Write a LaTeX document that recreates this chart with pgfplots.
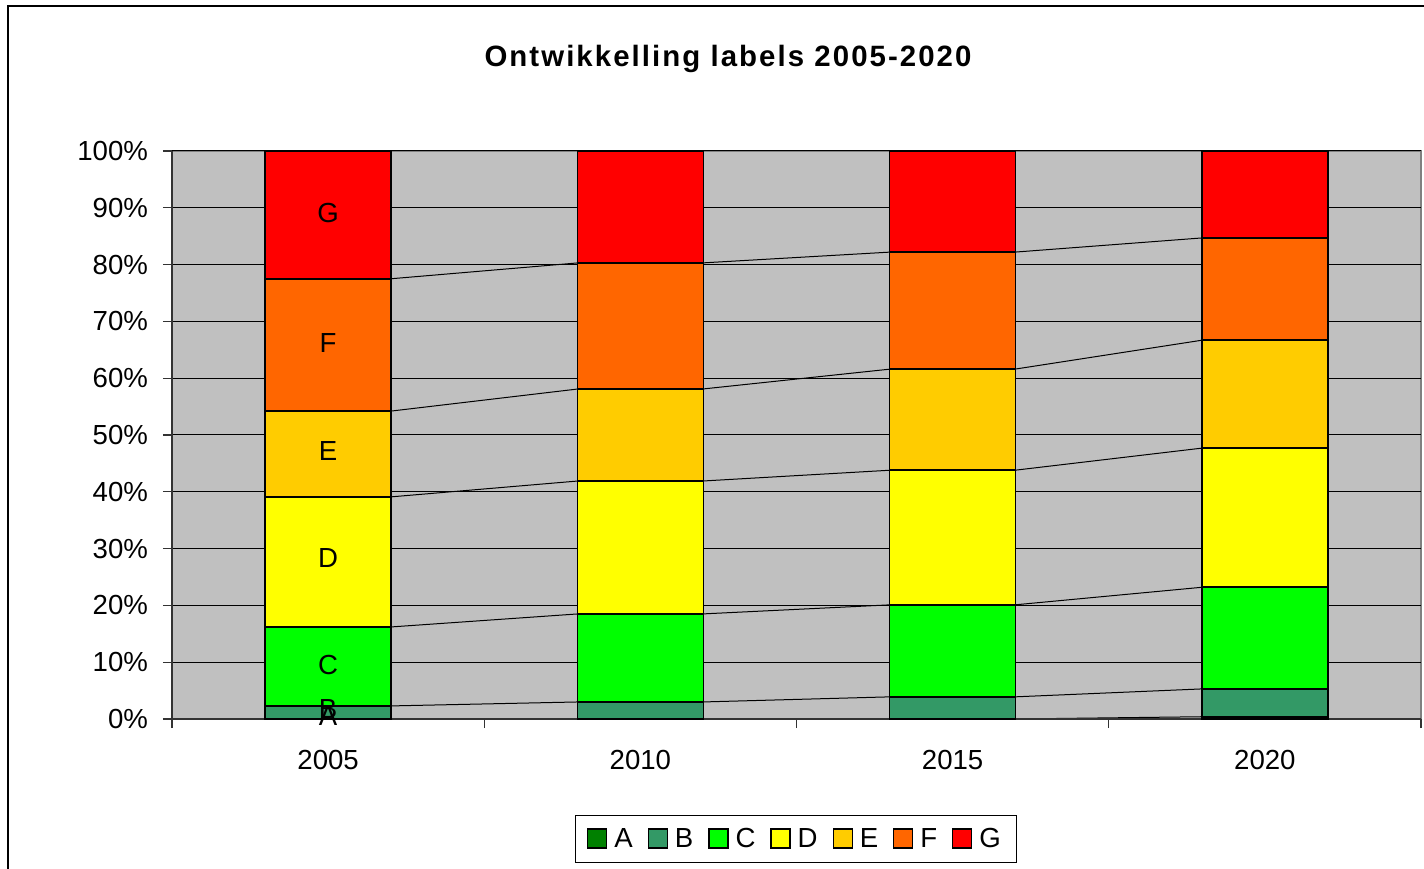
\documentclass[border=0pt]{standalone}
\usepackage{fontspec}
\setmainfont{Liberation Sans}
\usepackage{pgfplots}
\pgfplotsset{compat=1.18}
\usepackage{pgfplotstable}

\definecolor{labA}{HTML}{008000}
\definecolor{labB}{HTML}{339966}
\definecolor{labC}{HTML}{00FF00}
\definecolor{labD}{HTML}{FFFF00}
\definecolor{labE}{HTML}{FFCC00}
\definecolor{labF}{HTML}{FF6600}
\definecolor{labG}{HTML}{FF0000}
\definecolor{plotbg}{HTML}{C0C0C0}

\newcommand\chartfont{\fontsize{13.8}{16}\selectfont}

% share per label per year (%)
\pgfplotstableread{
x A   B   C    D    E    F    G
0 0.0 2.3 13.9 22.9 15.1 23.3 22.5
1 0.0 3.0 15.5 23.4 16.2 22.2 19.7
2 0.0 3.9 16.2 23.7 17.8 20.6 17.8
3 0.4 4.9 17.9 24.5 19.0 18.0 15.3
}\labels

\begin{document}
\begin{tikzpicture}
\useasboundingbox (0,0) rectangle (712pt,434pt);
\draw[line width=1.2pt] (4pt,-10pt) -- (4pt,431pt) -- (740pt,431pt);
\node[font=\fontsize{14.7}{17}\selectfont\bfseries\addfontfeature{LetterSpace=7}] at (364pt,404.5pt) {Ontwikkelling labels 2005-2020};

% background and series lines
\begin{axis}[
    at={(86pt,74.5pt)}, anchor=south west,
    scale only axis, width=624.5pt, height=284pt,
    xmin=-0.5, xmax=3.5, ymin=0, ymax=100,
    axis background/.style={fill=plotbg},
    axis line style={draw=gray, line width=0.6pt},
    xtick=\empty, ytick=\empty,
    unbounded coords=jump,
]
\addplot[black, line width=0.5pt, mark=none] coordinates {(0.2,0.0)(0.8,0.0)(1,nan)(1.2,0.0)(1.8,0.0)(2,nan)(2.2,0.0)(2.8,0.4)};
\addplot[black, line width=0.5pt, mark=none] coordinates {(0.2,2.3)(0.8,3.0)(1,nan)(1.2,3.0)(1.8,3.9)(2,nan)(2.2,3.9)(2.8,5.3)};
\addplot[black, line width=0.5pt, mark=none] coordinates {(0.2,16.2)(0.8,18.5)(1,nan)(1.2,18.5)(1.8,20.1)(2,nan)(2.2,20.1)(2.8,23.2)};
\addplot[black, line width=0.5pt, mark=none] coordinates {(0.2,39.1)(0.8,41.9)(1,nan)(1.2,41.9)(1.8,43.8)(2,nan)(2.2,43.8)(2.8,47.7)};
\addplot[black, line width=0.5pt, mark=none] coordinates {(0.2,54.2)(0.8,58.1)(1,nan)(1.2,58.1)(1.8,61.6)(2,nan)(2.2,61.6)(2.8,66.7)};
\addplot[black, line width=0.5pt, mark=none] coordinates {(0.2,77.5)(0.8,80.3)(1,nan)(1.2,80.3)(1.8,82.2)(2,nan)(2.2,82.2)(2.8,84.7)};
\end{axis}

% stacked bars
\begin{axis}[
    at={(86pt,74.5pt)}, anchor=south west,
    scale only axis, width=624.5pt, height=284pt,
    ybar stacked, bar width=63pt,
    xmin=-0.5, xmax=3.5, ymin=0, ymax=100,
    axis lines*=left,
    axis line style={-, draw=black!80, line width=0.6pt},
    tick align=outside, major tick length=4.5pt,
    tick style={black!80, line width=0.6pt},
    ytick={0,10,...,100},
    yticklabels={0\%,10\%,20\%,30\%,40\%,50\%,60\%,70\%,80\%,90\%,100\%},
    yticklabel style={xshift=-4pt},
    ymajorgrids, grid style={black, line width=0.5pt},
    xtick={-0.5,0.5,1.5,2.5,3.5}, xticklabels={,,,,},
    extra x ticks={0,1,2,3},
    extra x tick labels={2005,2010,2015,2020},
    extra x tick style={tick style={draw=none}, xticklabel style={yshift=-7.5pt}},
    tick label style={font=\chartfont},
    legend columns=7,
    legend style={at={(0.4996,-0.2113)}, anchor=center, draw=black,
        line width=0.5pt, font=\chartfont, inner xsep=6pt, inner ysep=4pt,
        /tikz/every even column/.append style={column sep=5.5pt},
        /tikz/every odd column/.append style={column sep=1.5pt}},
    legend image code/.code={\draw[#1, draw=black, line width=0.6pt] (0pt,-4.5pt) rectangle (9.5pt,5pt);},
    every axis plot/.append style={draw=black, line width=0.8pt},
]
\addplot[fill=labA] table[x=x, y=A] {\labels};
\addplot[fill=labB] table[x=x, y=B] {\labels};
\addplot[fill=labC] table[x=x, y=C] {\labels};
\addplot[fill=labD] table[x=x, y=D] {\labels};
\addplot[fill=labE] table[x=x, y=E] {\labels};
\addplot[fill=labF] table[x=x, y=F] {\labels};
\addplot[fill=labG] table[x=x, y=G] {\labels};
\legend{A,B,C,D,E,F,G}
\coordinate (lg) at (axis cs:0,89.1);
\coordinate (lf) at (axis cs:0,66.2);
\coordinate (le) at (axis cs:0,47.2);
\coordinate (ld) at (axis cs:0,28.3);
\coordinate (lc) at (axis cs:0,9.5);
\coordinate (lb) at (axis cs:0,1.8);
\coordinate (la) at (axis cs:0,0.5);
\end{axis}

% data labels in the 2005 bar
\node[font=\chartfont] at (lg) {G};
\node[font=\chartfont] at (lf) {F};
\node[font=\chartfont] at (le) {E};
\node[font=\chartfont] at (ld) {D};
\node[font=\chartfont] at (lc) {C};
\node[font=\chartfont] at (lb) {B};
\node[font=\chartfont] at (la) {A};
\end{tikzpicture}
\end{document}
